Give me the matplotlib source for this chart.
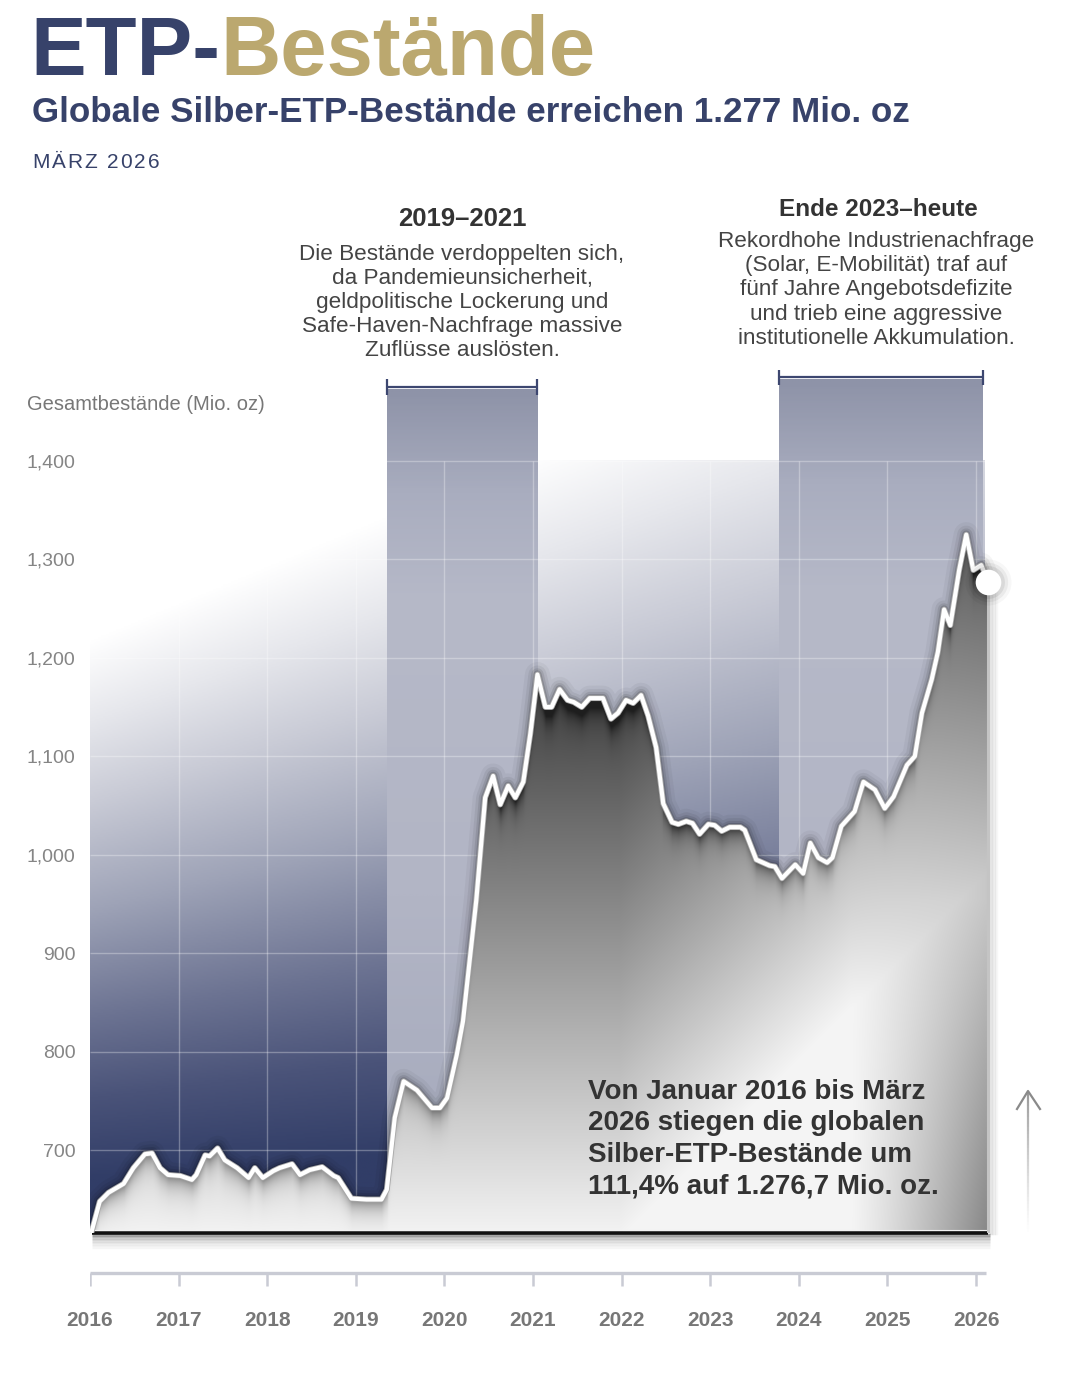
import numpy as np
import matplotlib
matplotlib.use("Agg")
import matplotlib.pyplot as plt
from matplotlib.colors import LinearSegmentedColormap
from matplotlib.patches import Polygon

plt.rcParams["font.family"] = ["Liberation Sans", "DejaVu Sans"]

W, H = 1080, 1374
NAVY = "#37426a"
GOLD = "#bba86f"

# --- data ---
years = [2016.02, 2016.11, 2016.21, 2016.38, 2016.49, 2016.62, 2016.70, 2016.79, 2016.88,
         2017.02, 2017.15, 2017.20, 2017.30, 2017.35, 2017.44, 2017.52, 2017.66, 2017.79, 2017.86, 2017.95,
         2018.07, 2018.14, 2018.28, 2018.37, 2018.48, 2018.62, 2018.75, 2018.80, 2018.95,
         2019.12, 2019.29, 2019.35, 2019.44, 2019.54, 2019.69, 2019.86, 2019.95,
         2020.03, 2020.14, 2020.21, 2020.36, 2020.46, 2020.55, 2020.63, 2020.72, 2020.80, 2020.89, 2020.97,
         2021.05, 2021.14, 2021.21, 2021.30, 2021.39, 2021.46, 2021.55, 2021.64, 2021.72, 2021.79, 2021.88, 2021.96,
         2022.05, 2022.13, 2022.22, 2022.30, 2022.39, 2022.47, 2022.57, 2022.64, 2022.73, 2022.80, 2022.88, 2022.98,
         2023.05, 2023.13, 2023.22, 2023.34, 2023.39, 2023.52, 2023.67, 2023.73, 2023.81, 2023.96,
         2024.05, 2024.13, 2024.22, 2024.32, 2024.38, 2024.48, 2024.63, 2024.73, 2024.86, 2024.97,
         2025.07, 2025.22, 2025.31, 2025.39, 2025.50, 2025.57, 2025.64, 2025.71, 2025.81, 2025.89, 2025.97,
         2026.06, 2026.14]
holdings = [618, 648, 657, 666, 682, 696, 697, 682, 675,
            674, 670, 675, 695, 694, 702, 690, 682, 672, 682, 672,
            679, 682, 686, 675, 680, 683, 674, 672, 651,
            650, 650, 660, 733, 770, 761, 743, 743,
            753, 797, 831, 954, 1058, 1080, 1051, 1070, 1058, 1074, 1123,
            1183, 1150, 1150, 1168, 1157, 1155, 1150, 1159, 1159, 1159, 1138, 1144,
            1157, 1154, 1162, 1141, 1109, 1052, 1033, 1031, 1034, 1032, 1021, 1031,
            1030, 1024, 1028, 1028, 1025, 995, 989, 988, 976, 990,
            981, 1012, 997, 992, 997, 1029, 1044, 1074, 1066, 1047,
            1059, 1091, 1100, 1144, 1178, 1206, 1249, 1233, 1289, 1325, 1289,
            1294, 1277]

year_ticks = list(range(2016, 2027))
value_ticks = [700, 800, 900, 1000, 1100, 1200, 1300, 1400]
band_spans = [(2019.35, 2021.05), (2023.78, 2026.08)]
band_tops = [1472, 1482]

left_title = "2019–2021"
left_lines = ["Die Bestände verdoppelten sich,", "da Pandemieunsicherheit,",
              "geldpolitische Lockerung und", "Safe-Haven-Nachfrage massive",
              "Zuflüsse auslösten."]
right_title = "Ende 2023–heute"
right_lines = ["Rekordhohe Industrienachfrage", "(Solar, E-Mobilität) traf auf",
               "fünf Jahre Angebotsdefizite", "und trieb eine aggressive",
               "institutionelle Akkumulation."]
summary_lines = ["Von Januar 2016 bis März", "2026 stiegen die globalen",
                 "Silber-ETP-Bestände um", "111,4% auf 1.276,7 Mio. oz."]

# --- layout in pixels ---
AX_L, AX_R, AX_T, AX_B = 90, 1000, 370, 1233
X0, X1 = 2016, 2016 + (AX_R - AX_L) / 88.6
Y0 = 616
Y1 = Y0 + (AX_B - AX_T) / 0.985
BG_RIGHT = 2026.1


def to_px(x, y):
    px = AX_L + (x - X0) / (X1 - X0) * (AX_R - AX_L)
    py = AX_B - (y - Y0) / (Y1 - Y0) * (AX_B - AX_T)
    return px, py


fig = plt.figure(figsize=(W / 100, H / 100), dpi=100)
ax = fig.add_axes([AX_L / W, 1 - AX_B / H, (AX_R - AX_L) / W, (AX_B - AX_T) / H])
ax.set_xlim(X0, X1)
ax.set_ylim(Y0, Y1)
for s in ax.spines.values():
    s.set_visible(False)
ax.set_xticks([])
ax.set_yticks(value_ticks)
ax.set_yticklabels([f"{v:,}" for v in value_ticks])
ax.tick_params(axis="y", length=0, pad=10.5, labelsize=14, labelcolor="#858585")

# background gradient
bg_cmap = LinearSegmentedColormap.from_list(
    "bg", [(0, "#ffffff"), (0.15, "#e6e7ec"), (0.3, "#c9cbd6"), (0.5, "#9ea3b7"),
           (0.7, "#6c7392"), (0.85, "#4a5379"), (1.0, "#313d67")])
gx = np.linspace(X0, BG_RIGHT, 600)
gy = np.linspace(Y0, 1400, 500)
GX, GY = np.meshgrid(gx, gy)
PX, PY = to_px(GX, GY)
y_white = 640 - 0.42 * (PX - 90)
L = 540 + 0.35 * (PX - 90)
t = np.clip((PY - y_white) / L, 0, 1)
ax.imshow(bg_cmap(t), extent=[X0, BG_RIGHT, Y0, 1400], origin="lower",
          aspect="auto", interpolation="bilinear", zorder=0)

# shaded periods
band_cmap = LinearSegmentedColormap.from_list(
    "band", [(0, "#8e93a8"), (0.12, "#a9adbf"), (0.25, "#b6b9c8"), (0.6, "#b2b5c5"), (1.0, "#a3a8bb")])
for (x_a, x_b), top in zip(band_spans, band_tops):
    vy = np.linspace(Y0, top, 400)
    _, vpy = to_px(x_a, vy)
    _, top_py = to_px(x_a, top)
    frac = (vpy - top_py) / (AX_B - top_py)
    img = band_cmap(frac)[:, None, :]
    ax.imshow(img, extent=[x_a, x_b, Y0, top], origin="lower",
              aspect="auto", interpolation="bilinear", zorder=1)
    # brackets
    yb = top + 3
    ax.plot([x_a, x_b], [yb, yb], color="#3d4770", lw=1.6, zorder=6, solid_capstyle="butt")
    ax.vlines([x_a, x_b], yb - 8, yb + 8, color="#3d4770", lw=1.6, zorder=6)

# grid
ax.vlines(year_ticks[1:], Y0, 1400, colors="white", alpha=0.3, lw=1, zorder=2)
ax.hlines(value_ticks, X0, BG_RIGHT, colors="white", alpha=0.3, lw=1, zorder=2)

# dark glow around the line
for lw, a in [(18, 0.04), (13, 0.06), (9, 0.09), (6, 0.14)]:
    ax.plot(years, holdings, color="black", lw=lw, alpha=a, zorder=3,
            solid_joinstyle="round", solid_capstyle="round")

# metallic area fill
fx_ = np.linspace(years[0], years[-1], 900)
fy_ = np.linspace(Y0, max(holdings) + 5, 760)
FX, FY = np.meshgrid(fx_, fy_)
FPX, FPY = to_px(FX, FY)
_, line_py = to_px(fx_, np.interp(fx_, years, holdings))
depth = FPY - line_py[None, :]
diag = FPY - 660 + 1.0 * np.clip(FPX - 620, 0, None)
base = 0.22 + 0.74 * np.clip(diag / 580, 0, 1)
shade = base - 0.45 * np.exp(-np.clip(depth, 0, None) / 10)
sweep = np.clip((FPX - 850) / 135, 0, 1) ** 1.2
shade -= 0.42 * sweep * (0.42 + 0.58 * np.clip((FPY - 900) / 330, 0, 1))
shade = np.clip(shade, 0.12, 0.96)
fill_img = np.dstack([shade, shade, shade])
fill_im = ax.imshow(fill_img, extent=[years[0], years[-1], Y0, max(holdings) + 5],
                    origin="lower", aspect="auto", interpolation="bilinear", zorder=4)
verts = [(years[0], Y0)] + list(zip(years, holdings)) + [(years[-1], Y0)]
poly = Polygon(verts, closed=True, facecolor="none", edgecolor="none")
ax.add_patch(poly)
fill_im.set_clip_path(poly)

# plate edges
for off, a in [(2, 0.35), (5, 0.2), (8, 0.12), (11, 0.07), (14, 0.04)]:
    ax.plot([years[0], years[-1] + 0.02], [Y0 - off / 0.985] * 2, color="black",
            lw=2.5, alpha=a, clip_on=False, zorder=4, solid_capstyle="butt")
ax.plot([years[0], years[-1]], [Y0 + 0.5, Y0 + 0.5], color="#111111", lw=2.6,
        clip_on=False, zorder=5, solid_capstyle="butt")
ax.plot([years[0], years[-1]], [Y0 + 3.5, Y0 + 3.5], color="#f2f2f2", lw=0.8, zorder=5)
for off, a in [(0.03, 0.1), (0.06, 0.06), (0.09, 0.03)]:
    ax.plot([years[-1] + off] * 2, [Y0, holdings[-1]], color="black", lw=2.5,
            alpha=a, zorder=4, clip_on=False)
ax.plot([years[-1], years[-1]], [Y0, holdings[-1]], color="#c4c4c4", lw=2.2, zorder=5)

# the line itself
ax.plot(years, holdings, color="#a8a8a8", lw=4.2, zorder=6, solid_joinstyle="round")
ax.plot(years, holdings, color="white", lw=3.0, zorder=7, solid_joinstyle="round")

# end marker
for s, a in [(1100, 0.03), (800, 0.05), (560, 0.07)]:
    ax.scatter([years[-1]], [holdings[-1]], s=s, color="black", alpha=a, lw=0,
               zorder=7, clip_on=False)
ax.scatter([years[-1]], [holdings[-1]], s=340, color="white", lw=0, zorder=8, clip_on=False)

# time axis below the plate
ax2 = fig.add_axes([AX_L / W, 1 - 1350 / H, (AX_R - AX_L) / W, (1350 - 1260) / H])
ax2.set_xlim(X0, X1)
ax2.set_ylim(1350, 1260)
ax2.axis("off")
ax2.plot([year_ticks[0], 2026.11], [1273, 1273], color="#c9cbd4", lw=2.4, solid_capstyle="butt")
ax2.vlines(year_ticks, 1273, 1286, color="#c9cbd4", lw=1.8)
for yr in year_ticks:
    ax2.text(yr, 1320, str(yr), ha="center", va="center", fontsize=15,
             fontweight="bold", color="#777777")

# overlay for texts, pixel coordinates
ov = fig.add_axes([0, 0, 1, 1], zorder=10)
ov.set_xlim(0, W)
ov.set_ylim(H, 0)
ov.axis("off")
renderer = fig.canvas.get_renderer()

t1 = ov.text(30, 75, "ETP-", fontsize=60, fontweight="bold", color=NAVY, va="baseline")
bb = t1.get_window_extent(renderer)
ov.text(bb.x1, 75, "Bestände", fontsize=60, fontweight="bold", color=GOLD, va="baseline")
ov.text(32, 122, "Globale Silber-ETP-Bestände erreichen 1.277 Mio. oz", fontsize=25.2,
        fontweight="bold", color=NAVY, va="baseline")


def tracked(x, y, s, track, **kw):
    for i, ch in enumerate(s):
        if ch == " ":
            continue
        tmp = ov.text(0, 0, s[: i + 1], **kw)
        w_all = tmp.get_window_extent(renderer).width
        tmp.remove()
        tmp = ov.text(0, 0, ch, **kw)
        w_ch = tmp.get_window_extent(renderer).width
        tmp.remove()
        ov.text(x + w_all - w_ch + i * track, y, ch, va="baseline", **kw)


tracked(32, 168, "MÄRZ 2026", 2.0, fontsize=15, color=NAVY)

ov.text(27, 410, "Gesamtbestände (Mio. oz)", fontsize=14.5, color="#777777", va="baseline")

ov.text(462, 226, left_title, fontsize=18.5, fontweight="bold", color="#333333",
        ha="center", va="baseline")
for i, line in enumerate(left_lines):
    ov.text(462, 260 + 24 * i, line, fontsize=16.2, color="#444444", ha="center", va="baseline")
ov.text(878, 216, right_title, fontsize=17.5, fontweight="bold", color="#333333",
        ha="center", va="baseline")
for i, line in enumerate(right_lines):
    ov.text(876, 247 + 24.2 * i, line, fontsize=16.2, color="#444444", ha="center", va="baseline")

for i, line in enumerate(summary_lines):
    ov.text(588, 1099 + 31.4 * i, line, fontsize=20, fontweight="bold", color="#333333",
            va="baseline")

# upward arrow at the right
n_seg = 40
ys_arrow = np.linspace(1092, 1232, n_seg + 1)
for i in range(n_seg):
    a = 0.85 * (1 - i / n_seg) ** 1.2
    ov.plot([1028, 1028], [ys_arrow[i], ys_arrow[i + 1]], color="#8a8a8a", lw=1.6,
            alpha=a, solid_capstyle="butt")
ov.plot([1017, 1028, 1040], [1109, 1091, 1109], color="#8a8a8a", lw=1.6)

fig.savefig("out.png", dpi=100)
